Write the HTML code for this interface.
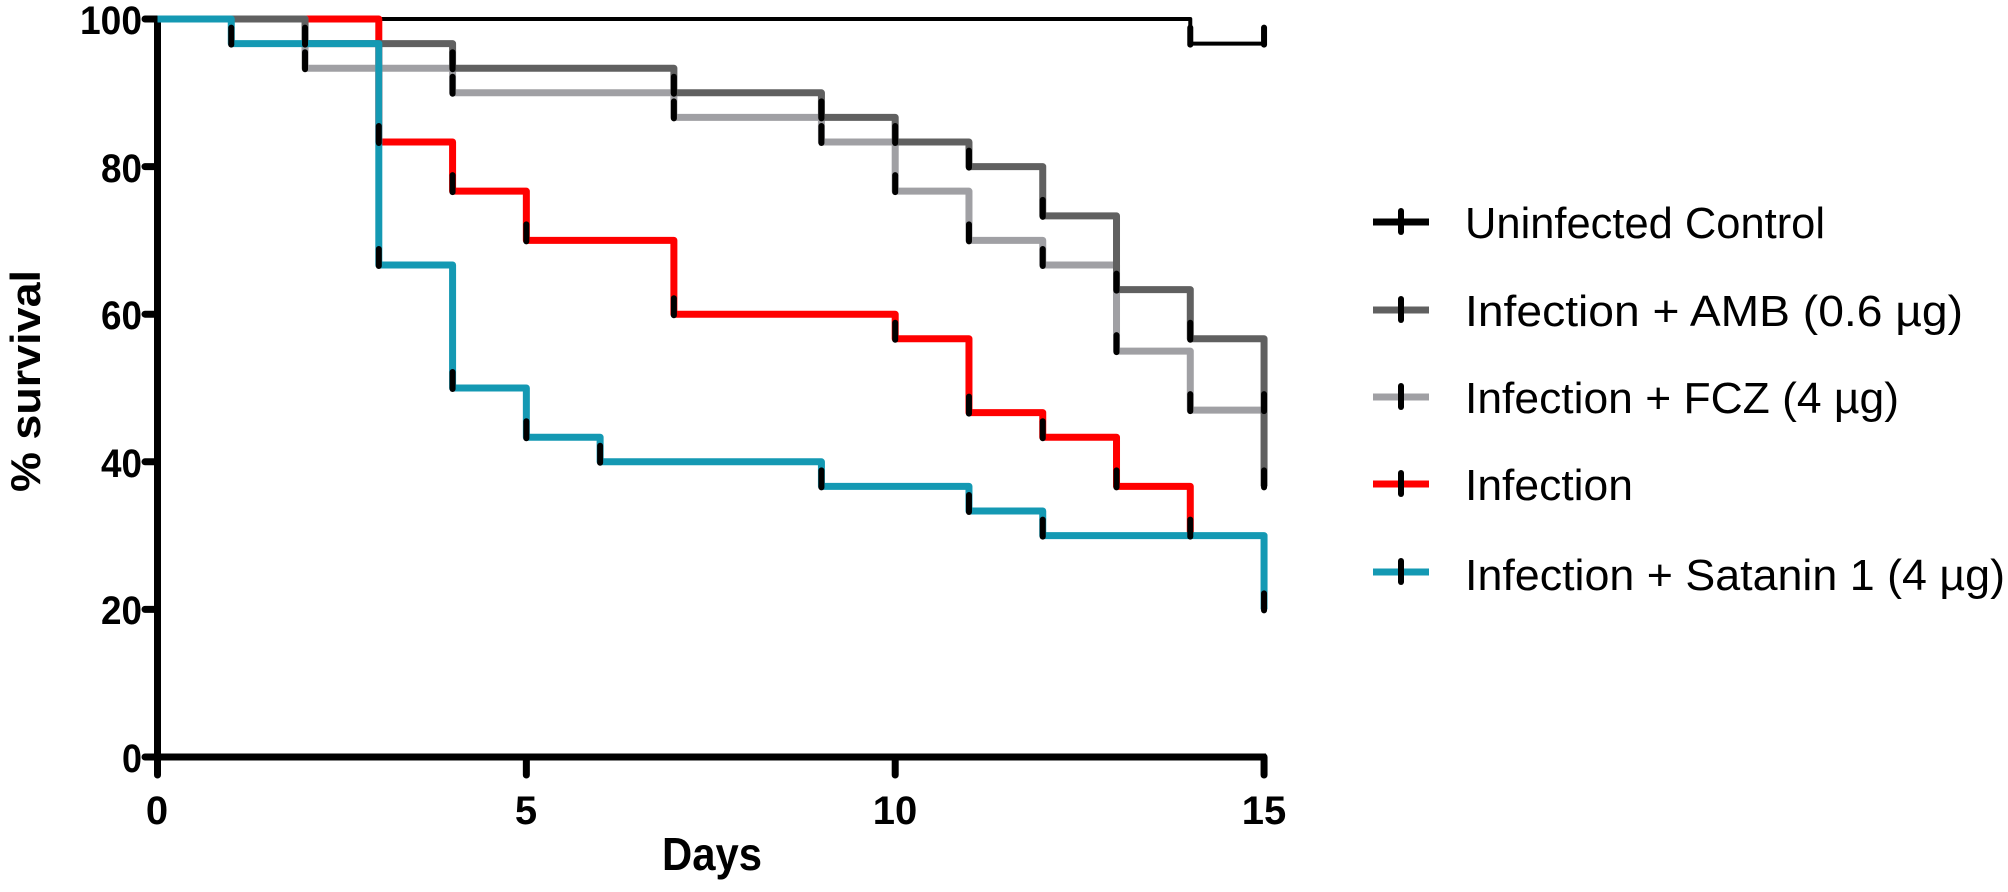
<!DOCTYPE html>
<html><head><meta charset="utf-8"><style>html,body{margin:0;padding:0;background:#fff}svg{display:block}</style></head>
<body>
<svg id="s" width="2008" height="892" xmlns="http://www.w3.org/2000/svg" font-family="Liberation Sans, sans-serif">
<g font-weight="bold" font-size="40" fill="#000" text-anchor="end">
<text x="142" y="34" textLength="62" lengthAdjust="spacingAndGlyphs">100</text>
<text x="142" y="182" textLength="41" lengthAdjust="spacingAndGlyphs">80</text>
<text x="142" y="329" textLength="41" lengthAdjust="spacingAndGlyphs">60</text>
<text x="142" y="477" textLength="41" lengthAdjust="spacingAndGlyphs">40</text>
<text x="142" y="624" textLength="41" lengthAdjust="spacingAndGlyphs">20</text>
<text x="142" y="772" textLength="20" lengthAdjust="spacingAndGlyphs">0</text>
</g>
<g font-weight="bold" font-size="40" fill="#000" text-anchor="middle">
<text x="157" y="824">0</text>
<text x="526" y="824">5</text>
<text x="895" y="824">10</text>
<text x="1264" y="824">15</text>
<text x="712" y="870" font-size="46" textLength="100" lengthAdjust="spacingAndGlyphs">Days</text>
<text transform="translate(40,381) rotate(-90)" font-size="42" textLength="222" lengthAdjust="spacingAndGlyphs">% survival</text>
</g>
<g id="plot"></g>
<g font-size="44" fill="#000">
<text x="1465" y="238" textLength="360" lengthAdjust="spacingAndGlyphs">Uninfected Control</text>
<text x="1465" y="326" textLength="498" lengthAdjust="spacingAndGlyphs">Infection  + AMB (0.6 µg)</text>
<text x="1465" y="413" textLength="434" lengthAdjust="spacingAndGlyphs">Infection + FCZ (4 µg)</text>
<text x="1465" y="500" textLength="168" lengthAdjust="spacingAndGlyphs">Infection</text>
<text x="1465" y="590" textLength="540" lengthAdjust="spacingAndGlyphs">Infection + Satanin 1 (4 µg)</text>
</g>
</svg>
<script>
const X=d=>157.5+d*73.77, Y=p=>757-p*7.38;
const ns="http://www.w3.org/2000/svg", g=document.getElementById('plot');
function el(n,a){const e=document.createElementNS(ns,n);for(const k in a)e.setAttribute(k,a[k]);g.appendChild(e);return e;}
el('line',{x1:157.5,y1:16,x2:157.5,y2:760,stroke:'#000','stroke-width':7});
el('line',{x1:154,y1:757,x2:1266,y2:757,stroke:'#000','stroke-width':7});
[100,80,60,40,20,0].forEach(p=>el('line',{x1:145,y1:Y(p),x2:157,y2:Y(p),stroke:'#000','stroke-width':7,'stroke-linecap':'round'}));
[0,5,10,15].forEach(d=>el('line',{x1:X(d),y1:757,x2:X(d),y2:775,stroke:'#000','stroke-width':7,'stroke-linecap':'round'}));
const series=[
 ['#000',4,[[0,100],[14,96.67],[15,96.67]]],
 ['#606060',7,[[0,100],[2,96.67],[4,93.33],[7,90],[9,86.67],[10,83.33],[11,80],[12,73.33],[13,63.33],[14,56.67],[15,36.67]]],
 ['#a0a0a4',7,[[0,100],[2,93.33],[4,90],[7,86.67],[9,83.33],[10,76.67],[11,70],[12,66.67],[13,55],[14,47],[15,47]]],
 ['#ff0000',7,[[0,100],[3,83.33],[4,76.67],[5,70],[7,60],[10,56.67],[11,46.67],[12,43.33],[13,36.67],[14,30]]],
 ['#1499b3',7,[[0,100],[1,96.67],[3,66.67],[4,50],[5,43.33],[6,40],[9,36.67],[11,33.33],[12,30],[15,20]]]
];
const order=[0,3,2,1,4];
order.forEach(k=>{const [c,w,pts]=series[k];
 let d='M'+X(0)+','+Y(100);
 for(let i=1;i<pts.length;i++){d+=' H'+X(pts[i][0])+' V'+Y(pts[i][1]);}
 el('path',{d,fill:'none',stroke:c,'stroke-width':w,'stroke-linejoin':'round'});
});
series.forEach(([c,w,pts])=>{
 for(let i=1;i<pts.length;i++){const x=X(pts[i][0]),y=Y(pts[i][1]);
  el('line',{x1:x,y1:y-16,x2:x,y2:y+1,stroke:'#000','stroke-width':6,'stroke-linecap':'round'});}
});
const ly=[222,310,397,484,572];
series.forEach(([c,w],i)=>{
 el('line',{x1:1373,y1:ly[i],x2:1429,y2:ly[i],stroke:c,'stroke-width':7});
 el('line',{x1:1401,y1:ly[i]-11,x2:1401,y2:ly[i]+10,stroke:'#000','stroke-width':6,'stroke-linecap':'round'});
});
</script>
</body></html>
